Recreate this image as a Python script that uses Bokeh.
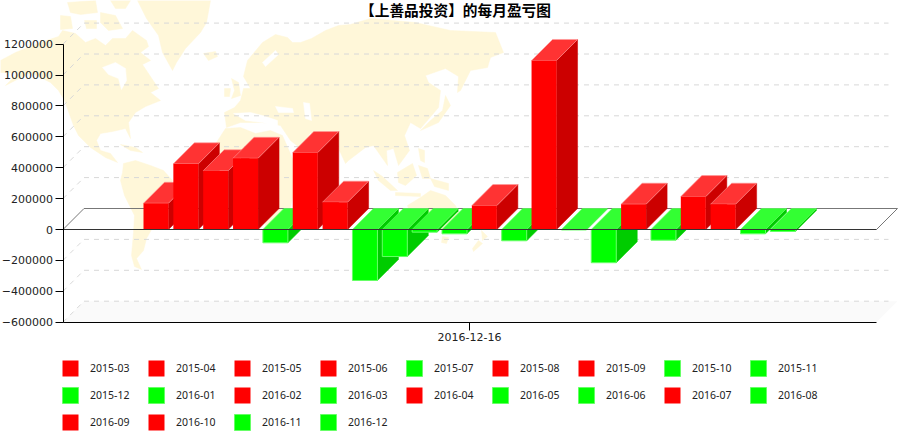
from bokeh.plotting import figure
from bokeh.embed import file_html
from bokeh.resources import INLINE
from bokeh.models import (Range1d, LinearAxis, FixedTicker, BasicTickFormatter, Legend, LegendItem, Label)

# ---- data ----
months = ["2015-03","2015-04","2015-05","2015-06","2015-07","2015-08","2015-09","2015-10","2015-11","2015-12","2016-01",
          "2016-02","2016-03","2016-04","2016-05","2016-06","2016-07","2016-08","2016-09","2016-10","2016-11","2016-12"]
profit = [170000,425000,380000,461000,-86000,498000,177000,-330000,-175000,-17000,-28000,
          155000,-73000,1094000,-3000,-215000,164000,-69000,213000,164000,-28000,-13000]
y_ticks = [-600000,-400000,-200000,0,200000,400000,600000,800000,1000000,1200000]
x_label = "2016-12-16"
title_text = "【上善品投资】的每月盈亏图"

# ---- layout constants (pixels of the page) ----
W, H = 905, 433
STEP, FIRST_CENTRE, PX_PER_UNIT = 29.85, 155.5, 30.9 / 200000
ZERO_Y = 229.0
BAR_W = 25 / STEP
DX = 21 / STEP
DY = 21 / PX_PER_UNIT

def xd(px): return (px - FIRST_CENTRE) / STEP
def yd(py): return (ZERO_Y - py) / PX_PER_UNIT

x_lo, x_hi = xd(62.5), xd(876)

p = figure(width=W, height=H, output_backend="svg", toolbar_location=None,
           x_range=Range1d(xd(0), xd(W)), y_range=Range1d(yd(H), yd(0)),
           min_border=0, min_border_left=0, min_border_right=0, min_border_top=0, min_border_bottom=0,
           x_axis_type=None, y_axis_type=None, outline_line_color=None)
p.grid.visible = False
p.background_fill_color = "white"

# ---- decorative world map in the background, traced in page pixels ----
land = [
 # north america
 [(0,60),(15,52),(40,42),(58,36),(62,30),(75,33),(85,42),(95,38),(105,45),(112,38),(125,38),(132,30),(146,40),(148,46),(140,52),
  (150,60),(142,64),(158,88),(150,92),(160,100),(145,106),(135,112),(128,122),(130,138),(125,128),(112,131),(100,133),(96,140),(100,150),(110,153),
  (117,162),(105,157),(90,147),(78,135),(73,125),(64,100),(58,90),(50,82),(30,72),(5,85),(18,72),(0,72)],
 # arctic islands
 [(60,15),(70,16),(72,28),(60,29)],
 [(67,2),(95,0),(97,12),(80,14),(70,12)],
 [(100,12),(115,15),(122,28),(108,30),(100,22)],
 [(110,0),(130,0),(125,8),(115,8)],
 [(84,20),(96,20),(96,28),(86,28)],
 # greenland
 [(137,0),(210,0),(206,22),(200,32),(185,48),(176,62),(172,70),(162,52),(158,35),(146,18)],
 # iceland
 [(203,53),(215,51),(217,56),(208,60)],
 # cuba
 [(120,144),(135,147),(142,152),(130,150)],
 # south america
 [(123,163),(135,160),(150,165),(163,170),(172,180),(165,192),(158,205),(155,222),(146,238),(143,250),(136,258),(141,269),(134,266),(131,255),(133,232),(134,215),(124,195),(120,180),(122,172)],
 # uk + ireland
 [(231,78),(238,82),(240,95),(231,98),(234,90)],
 [(224,88),(230,88),(229,96),(224,96)],
 # eurasia
 [(224,112),(234,107),(240,100),(243,88),(250,88),(243,76),(247,60),(262,42),(275,34),(287,37),(292,42),(300,42),(311,38),(325,30),(338,25),(350,24),(370,18),(415,22),(450,30),(495,32),
  (503,52),(490,57),(487,67),(470,70),(460,90),(457,92),(458,76),(445,68),(425,75),(428,82),(440,90),(438,107),(420,128),(410,122),(404,135),(409,150),(398,165),(393,148),(386,150),(387,165),(373,145),(365,147),
  (348,160),(345,163),(338,148),(325,140),(320,143),(310,132),(300,148),(290,140),(280,125),(262,122),(240,122),(226,127)],
 # japan
 [(445,95),(450,105),(438,122),(420,130),(430,120),(442,110)],
 # africa
 [(225,128),(240,127),(255,133),(270,130),(282,135),(292,158),(310,156),(300,185),(292,198),(288,215),(276,232),(266,232),(262,205),(255,175),(238,172),(220,165),(214,145)],
 # madagascar
 [(300,200),(306,198),(303,218),(297,218)],
 # indonesia, philippines
 [(373,170),(382,176),(397,190),(390,190),(378,180)],
 [(397,172),(412,163),(416,175),(405,185),(398,182)],
 [(395,192),(420,193),(420,196),(395,195)],
 [(418,165),(427,168),(430,178),(422,178)],
 [(430,178),(448,183),(448,190),(434,186)],
 [(418,148),(424,150),(424,162),(420,160)],
 # australia
 [(407,205),(420,197),(430,190),(445,195),(455,205),(463,222),(450,232),(430,226),(412,225)],
 [(442,236),(448,237),(446,243),(441,242)],
 # new zealand
 [(481,230),(487,236),(482,240)],
 [(478,240),(482,243),(473,251),(472,248)],
]
water = [
 [(102,67),(115,62),(125,68),(126,80),(121,89),(118,78),(108,74)],   # hudson
 [(233,113),(250,112),(262,115),(277,120),(277,127),(262,122),(245,120)],  # mediterranean
 [(275,106),(292,108),(293,112),(278,112)],  # black sea
 [(303,102),(309,103),(311,120),(305,118)],  # caspian
 [(282,133),(284,133),(296,152),(293,152)],  # red sea
 [(262,62),(275,50),(278,54),(265,66)],      # baltic
]
MAP = "#FFF7D9"
p.patches([[xd(a) for a, _ in s] for s in land], [[yd(b) for _, b in s] for s in land],
          fill_color=MAP, line_color=MAP, line_width=0.5)
p.patches([[xd(a) for a, _ in s] for s in water], [[yd(b) for _, b in s] for s in water],
          fill_color="white", line_color="white", line_width=0.5)

# ---- 3-D floor, walls, grid ----
vmin, vmax = y_ticks[0], y_ticks[-1]
p.patch([x_lo, x_lo + DX, x_hi + DX, x_hi], [vmin, vmin + DY, vmin + DY, vmin], fill_color="#FAFAFA", line_color=None)
grid_ticks = [t for t in y_ticks if t != 0]
p.multi_line([[x_lo + DX, xd(888)] for t in grid_ticks], [[t + DY, t + DY] for t in grid_ticks],
             line_color="#D8D8D8", line_dash="5 5", line_width=1)
p.multi_line([[x_lo, x_lo + DX] for t in grid_ticks], [[t, t + DY] for t in grid_ticks],
             line_color="#D8D8D8", line_dash="5 5", line_width=1)
p.line([x_lo, x_lo + DX, x_hi + DX, x_hi], [0, DY, DY, 0], line_color="#777777", line_width=1)

# ---- bars, drawn from back-left to front-right ----
RED = ("#FF0000", "#CC0000", "#FF3333", "#FF9999")
GREEN = ("#00FF00", "#00CC00", "#33FF33", "#66FF66")
items = []
for i, (m, v) in enumerate(zip(months, profit)):
    front, side, top, edge = RED if v > 0 else GREEN
    l, r = i - BAR_W / 2, i + BAR_W / 2
    hi = max(v, 0)
    p.patch([r, r + DX, r + DX, r], [v, v + DY, DY, 0], fill_color=side, line_color=side, line_width=0.5)
    p.patch([l, l + DX, r + DX, r], [hi, hi + DY, hi + DY, hi], fill_color=top, line_color=edge, line_alpha=0.6, line_width=1)
    q = p.quad(left=l, right=r, bottom=min(v, 0), top=hi, fill_color=front, line_color=edge if v < 0 else None, line_width=1)
    items.append(LegendItem(label=m, renderers=[q]))

p.line([x_lo, x_hi], [0, 0], line_color="#333333", line_width=1)

# ---- axes ----
fmt = BasicTickFormatter(use_scientific=False)
ya = LinearAxis(fixed_location=x_lo, ticker=FixedTicker(ticks=y_ticks), formatter=fmt, bounds=(vmin, vmax),
                major_tick_out=8, major_tick_in=0, minor_tick_out=0, minor_tick_in=0,
                axis_line_color="black", major_tick_line_color="black", major_label_standoff=2,
                major_label_text_font="DejaVu Sans", major_label_text_font_size="11px", major_label_text_color="#222222")
p.add_layout(ya, "left")
xa = LinearAxis(fixed_location=vmin, ticker=FixedTicker(ticks=[(len(months) - 1) / 2]),
                major_label_overrides={(len(months) - 1) / 2: x_label}, bounds=(x_lo, x_hi),
                major_tick_out=8, major_tick_in=0, minor_tick_out=0, minor_tick_in=0,
                axis_line_color="black", major_tick_line_color="black", major_label_standoff=3,
                major_label_text_font="DejaVu Sans", major_label_text_font_size="11px", major_label_text_color="#222222")
p.add_layout(xa, "below")

# ---- title ----
p.add_layout(Label(x=xd(455), y=yd(9), text=title_text, text_align="center", text_baseline="middle",
                   text_font="Noto Sans CJK SC", text_font_style="bold", text_font_size="14.7px", text_color="black"))

# ---- legend ----
legend = Legend(items=items, location=(60, 1), orientation="horizontal", ncols=9,
                glyph_width=20, glyph_height=20, label_standoff=10, label_width=49, label_height=20,
                spacing=7, padding=0, margin=0, border_line_color=None, background_fill_alpha=0,
                label_text_font="Noto Sans", label_text_font_size="10.5px", label_text_color="#222222")
p.add_layout(legend, "center")

open("out.html", "w").write(file_html(p, INLINE))
